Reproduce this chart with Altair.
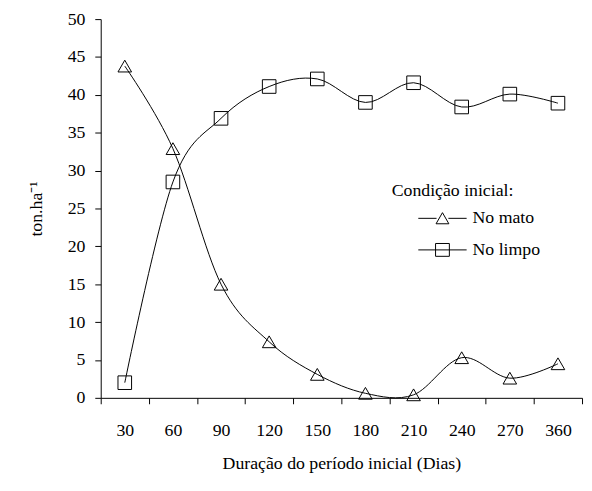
import altair as alt
import pandas as pd

dias = ["30", "60", "90", "120", "150", "180", "210", "240", "270", "360"]
no_mato = [43.8, 32.9, 15.0, 7.4, 3.1, 0.6, 0.4, 5.3, 2.6, 4.5]
no_limpo = [2.0, 28.5, 36.9, 41.1, 42.1, 39.0, 41.6, 38.4, 40.1, 38.9]
series = ["No mato", "No limpo"]

rows = []
for d, v in zip(dias, no_mato):
    rows.append({"dias": d, "valor": v, "serie": series[0]})
for d, v in zip(dias, no_limpo):
    rows.append({"dias": d, "valor": v, "serie": series[1]})
df = pd.DataFrame(rows)

FONT = "Liberation Serif"

x_enc = alt.X(
    "dias:O",
    sort=dias,
    scale=alt.Scale(type="band", paddingInner=0, paddingOuter=0),
    axis=alt.Axis(
        title="Duração do período inicial (Dias)",
        labelAngle=0,
        tickBand="extent",
        tickSize=6,
        labelPadding=18,
        titlePadding=16,
        domainColor="black",
        tickColor="black",
        labelColor="black",
        titleColor="black",
        labelFont=FONT,
        titleFont=FONT,
        labelFontSize=18,
        titleFontSize=18,
        titleFontWeight="normal",
    ),
)
y_enc = alt.Y(
    "valor:Q",
    scale=alt.Scale(domain=[0, 50]),
    axis=alt.Axis(
        title="ton.ha⁻¹",
        values=list(range(0, 51, 5)),
        grid=False,
        tickSize=6,
        labelPadding=10,
        titlePadding=22,
        domainColor="black",
        tickColor="black",
        labelColor="black",
        titleColor="black",
        labelFont=FONT,
        titleFont=FONT,
        labelFontSize=18,
        titleFontSize=18,
        titleFontWeight="normal",
    ),
)

base = alt.Chart(df)

lines = base.mark_line(interpolate="cardinal", color="black", strokeWidth=1).encode(
    x=x_enc, y=y_enc, detail="serie:N"
)

points = base.mark_point(filled=False, color="black", strokeWidth=1, opacity=1).encode(
    x=x_enc,
    y=y_enc,
    shape=alt.Shape(
        "serie:N",
        scale=alt.Scale(domain=series, range=["triangle-up", "square"]),
        legend=None,
    ),
    size=alt.value(190),
)

tri_path = "M3.6,0H7.3M9.7,0H13.4M8.5,-1.15L9.8,1.1L7.2,1.1Z"
sq_path = "M3.6,0H13.4M7.1,-1.3H9.9V1.3H7.1Z"

legend_layer = base.transform_filter("false").mark_point(
    filled=False, color="black"
).encode(
    x=x_enc,
    y=y_enc,
    shape=alt.Shape(
        "serie:N",
        scale=alt.Scale(domain=series, range=[tri_path, sq_path]),
        title="Condição inicial:",
        legend=alt.Legend(
            orient="none",
            legendX=295,
            legendY=165,
            symbolSize=100,
            symbolStrokeColor="black",
            symbolFillColor="transparent",
            symbolStrokeWidth=1,
            symbolOpacity=1,
            labelOffset=64,
            labelFont=FONT,
            labelFontSize=18,
            labelColor="black",
            titleFont=FONT,
            titleFontSize=18,
            titleFontWeight="normal",
            titleColor="black",
            titlePadding=10,
            rowPadding=14,
            padding=0,
        ),
    ),
)

chart = (
    alt.layer(lines, points, legend_layer)
    .resolve_scale(shape="independent")
    .properties(
        width=488,
        height=384,
        autosize=alt.AutoSizeParams(type="none"),
        padding={"left": 94, "top": 8, "right": 2, "bottom": 78},
    )
    .configure_view(stroke=None)
)

chart.save("out.html", embed_options={"renderer": "svg", "actions": False})
